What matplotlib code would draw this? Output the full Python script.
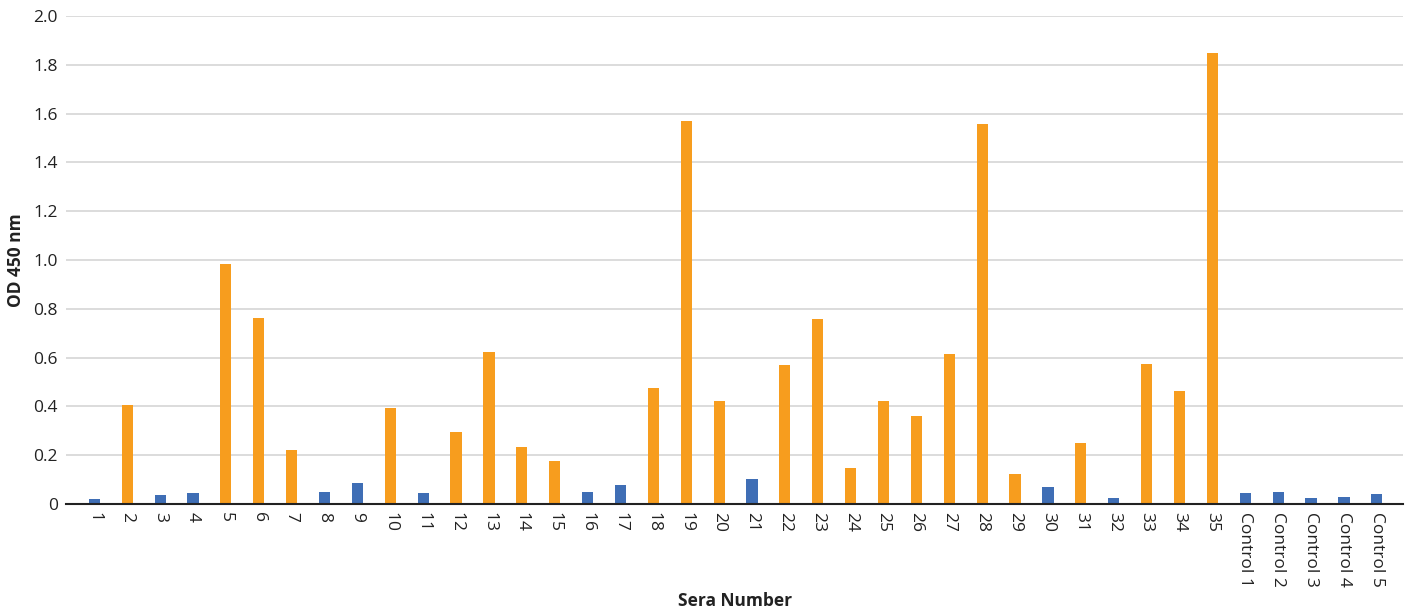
import matplotlib.pyplot as plt
import numpy as np

# Sera labels and OD readings
labels = [str(i) for i in range(1, 36)] + ['Control 1', 'Control 2', 'Control 3', 'Control 4', 'Control 5']
od_values = [0.020, 0.406, 0.037, 0.045, 0.984, 0.762, 0.221, 0.049, 0.086, 0.393,
             0.045, 0.295, 0.623, 0.234, 0.176, 0.049, 0.078, 0.475, 1.570, 0.422,
             0.102, 0.570, 0.758, 0.148, 0.422, 0.361, 0.615, 1.557, 0.123, 0.070,
             0.250, 0.025, 0.574, 0.463, 1.848,
             0.045, 0.049, 0.025, 0.029, 0.041]
# 'pos' = orange, 'neg' = blue
groups = ['neg', 'pos', 'neg', 'neg', 'pos', 'pos', 'pos', 'neg', 'neg', 'pos',
          'neg', 'pos', 'pos', 'pos', 'pos', 'neg', 'neg', 'pos', 'pos', 'pos',
          'neg', 'pos', 'pos', 'pos', 'pos', 'pos', 'pos', 'pos', 'pos', 'neg',
          'pos', 'neg', 'pos', 'pos', 'pos',
          'neg', 'neg', 'neg', 'neg', 'neg']

palette = {'pos': '#F79D1E', 'neg': '#3F6EB5'}
plt.rcParams['font.family'] = ['Open Sans', 'DejaVu Sans']

fig = plt.figure(figsize=(14.13, 6.12), dpi=100)
ax = fig.add_axes([0.047, 0.1765, 0.946, 0.7975])

x = np.arange(len(labels))
ax.bar(x, od_values, width=0.34, color=[palette[g] for g in groups], zorder=3)

ax.set_ylim(0, 2.0)
ax.set_xlim(-0.85, len(labels) - 1 + 0.8)
ax.set_yticks(np.arange(0, 2.01, 0.2))
ax.set_yticklabels(['0'] + [f'{v:.1f}' for v in np.arange(0.2, 2.01, 0.2)])
ax.set_xticks(x)
ax.set_xticklabels(labels, rotation=270, fontsize=12.5, color='#222222')
ax.tick_params(axis='y', length=0, labelsize=12.5, colors='#222222', pad=6)
ax.tick_params(axis='x', length=0, pad=6)

ax.grid(axis='y', color='#D9D9D9', linewidth=1.3, zorder=0)
for side in ['top', 'right', 'left']:
    ax.spines[side].set_visible(False)
ax.spines['bottom'].set_color('#222222')
ax.spines['bottom'].set_linewidth(1.5)
ax.spines['bottom'].set_zorder(4)

ax.set_ylabel('OD 450 nm', fontsize=12.5, fontweight='bold', color='#222222', labelpad=6)
ax.set_xlabel('Sera Number', fontsize=12.5, fontweight='bold', color='#222222')
ax.xaxis.set_label_coords(0.5, -0.18)

fig.savefig('out.png', dpi=100)
